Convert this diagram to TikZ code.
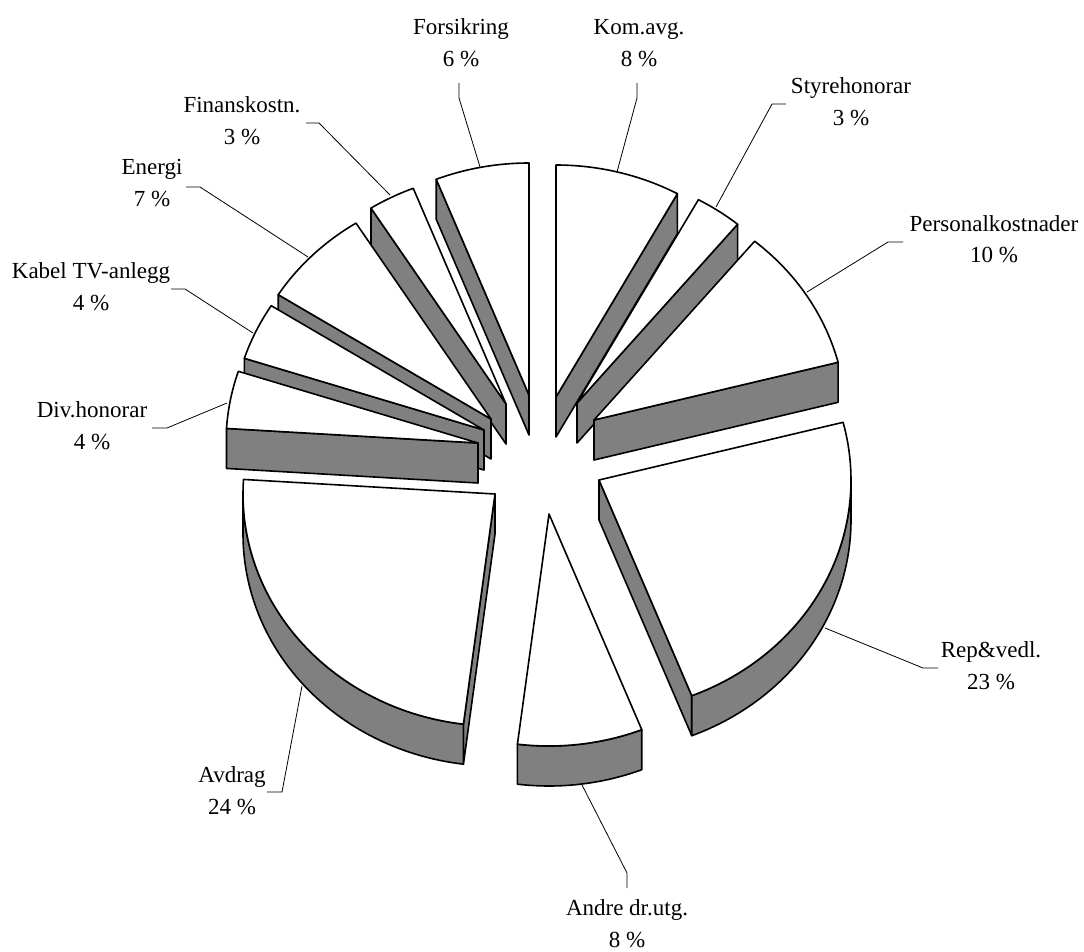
\documentclass[tikz,border=0pt]{standalone}
\usepackage{fontspec}
\setmainfont{Liberation Serif}
\definecolor{wallgray}{RGB}{128,128,128}
\def\pieRX{252}
\def\pieRY{232}
\def\pieDP{40}
\tikzset{
  face/.style={fill=white,draw=black,line width=1.6pt,line join=round},
  wallface/.style={fill=wallgray,draw=black,line width=1.6pt,line join=round},
  leader/.style={draw=black,line width=0.8pt},
  lbl/.style={anchor=base,inner sep=0pt,font=\fontsize{23}{32}\selectfont}
}
% top face of a slice: apex x, apex y, start angle, end angle (clockwise from 12 o'clock)
\newcommand\topface[4]{\path[face] plot[domain=#3:#4,samples=60] ({#1+\pieRX*sin(\x)},{#2-\pieRY*cos(\x)}) -- (#1,#2) -- cycle;}
% radial wall: apex x, apex y, angle
\newcommand\radwall[3]{\path[wallface] (#1,#2) -- ({#1+\pieRX*sin(#3)},{#2-\pieRY*cos(#3)}) -- ({#1+\pieRX*sin(#3)},{#2-\pieRY*cos(#3)+\pieDP}) -- (#1,{#2+\pieDP}) -- cycle;}
% outer wall: apex x, apex y, from angle, to angle
\newcommand\outwall[4]{\path[wallface] plot[domain=#3:#4,samples=60] ({#1+\pieRX*sin(\x)},{#2-\pieRY*cos(\x)}) -- plot[domain=#4:#3,samples=60] ({#1+\pieRX*sin(\x)},{#2-\pieRY*cos(\x)+\pieDP}) -- cycle;}
\begin{document}
\begin{tikzpicture}[x=1pt,y=-1pt]
\useasboundingbox (0,0) rectangle (1084,952);
\fill[white] (0,0) rectangle (1084,952);
% slices, back to front
% Forsikring
\radwall{529}{395}{338.4}
\topface{529}{395}{338.4}{360}
% Kom.avg.
\radwall{556}{397}{28.8}
\topface{556}{397}{0}{28.8}
% Finanskostn.
\radwall{506}{404}{327.6}
\topface{506}{404}{327.6}{338.4}
% Styrehonorar
\radwall{577}{403}{39.6}
\topface{577}{403}{28.8}{39.6}
% Energi
\radwall{491}{419}{302.4}
\topface{491}{419}{302.4}{327.6}
% Personalkostnader
\radwall{594}{420}{75.6}
\topface{594}{420}{39.6}{75.6}
% Kabel TV-anlegg
\radwall{484}{430}{288}
\topface{484}{430}{288}{302.4}
% Div.honorar
\radwall{478}{443}{273.6}
\topface{478}{443}{273.6}{288}
% Rep&vedl.
\radwall{599}{480}{158.4}
\outwall{599}{480}{90}{158.4}
\topface{599}{480}{75.6}{158.4}
% Avdrag
\radwall{495}{494}{187.2}
\outwall{495}{494}{187.2}{270}
\topface{495}{494}{187.2}{273.6}
% Andre dr.utg.
\outwall{549}{514}{158.4}{187.2}
\topface{549}{514}{158.4}{187.2}

% labels
\node[lbl] (forsikring) at (461,35) {\begin{tabular}[t]{@{}c@{}}Forsikring\\6 \%\end{tabular}};
\node[lbl] (komavg) at (639,35) {\begin{tabular}[t]{@{}c@{}}Kom.avg.\\8 \%\end{tabular}};
\node[lbl] (styre) at (851,94) {\begin{tabular}[t]{@{}c@{}}Styrehonorar\\3 \%\end{tabular}};
\node[lbl] (finans) at (242,113) {\begin{tabular}[t]{@{}c@{}}Finanskostn.\\3 \%\end{tabular}};
\node[lbl] (energi) at (152,175) {\begin{tabular}[t]{@{}c@{}}Energi\\7 \%\end{tabular}};
\node[lbl] (kabel) at (91,278) {\begin{tabular}[t]{@{}c@{}}Kabel TV-anlegg\\4 \%\end{tabular}};
\node[lbl] (div) at (92,417) {\begin{tabular}[t]{@{}c@{}}Div.honorar\\4 \%\end{tabular}};
\node[lbl] (personal) at (994,231) {\begin{tabular}[t]{@{}c@{}}Personalkostnader\\10 \%\end{tabular}};
\node[lbl] (rep) at (991,657) {\begin{tabular}[t]{@{}c@{}}Rep\&vedl.\\23 \%\end{tabular}};
\node[lbl] (andre) at (627,915) {\begin{tabular}[t]{@{}c@{}}Andre dr.utg.\\8 \%\end{tabular}};
\node[lbl] (avdrag) at (232,782) {\begin{tabular}[t]{@{}c@{}}Avdrag\\24 \%\end{tabular}};

% leader lines
\coordinate (sForsikring) at (480,167); \coordinate (bForsikring) at (459,98); \coordinate (eForsikring) at (459,83);
\coordinate (sKom) at (617,172); \coordinate (bKom) at (637,98); \coordinate (eKom) at (637,83);
\coordinate (sStyre) at (716,207); \coordinate (bStyre) at (772,104); \coordinate (eStyre) at (786,104);
\coordinate (sFinans) at (390,195); \coordinate (bFinans) at (319,123); \coordinate (eFinans) at (306,123);
\coordinate (sEnergi) at (308,257); \coordinate (bEnergi) at (200,187); \coordinate (eEnergi) at (186,187);
\coordinate (sKabel) at (253,333); \coordinate (bKabel) at (185,289); \coordinate (eKabel) at (171,289);
\coordinate (sDiv) at (227,403); \coordinate (bDiv) at (167,428); \coordinate (eDiv) at (152,428);
\coordinate (sPersonal) at (807,292); \coordinate (bPersonal) at (888,242); \coordinate (ePersonal) at (903,242);
\coordinate (sRep) at (825,628); \coordinate (bRep) at (923,668); \coordinate (eRep) at (938,668);
\coordinate (sAndre) at (581,783); \coordinate (bAndre) at (627,873); \coordinate (eAndre) at (627,888);
\coordinate (sAvdrag) at (302,686); \coordinate (bAvdrag) at (282,792); \coordinate (eAvdrag) at (267,792);
\foreach \n in {Forsikring,Kom,Styre,Finans,Energi,Kabel,Div,Personal,Rep,Andre,Avdrag}
  \draw[leader] (s\n) -- (b\n) -- (e\n);
\end{tikzpicture}
\end{document}
